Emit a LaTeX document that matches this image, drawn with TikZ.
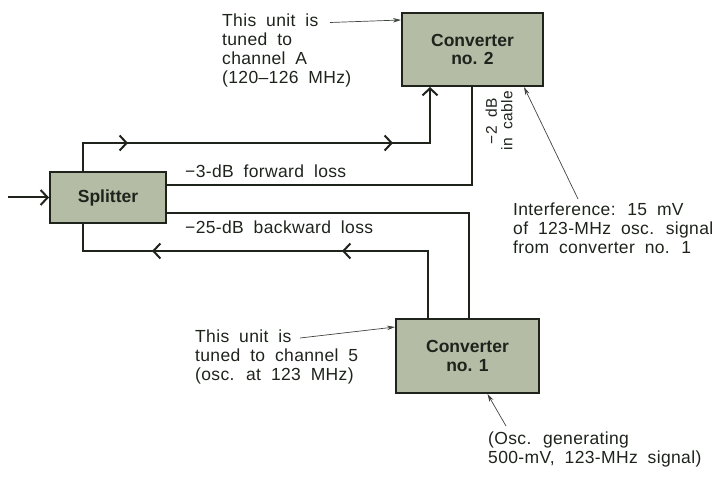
\documentclass[tikz,border=0pt]{standalone}
\usepackage{fontspec}
\setmainfont{Liberation Sans}
\newfontfamily\notefont{Liberation Sans}[WordSpace=1.9,LetterSpace=2]
\usetikzlibrary{arrows.meta}
\usetikzlibrary{decorations.markings}
\definecolor{unitfill}{RGB}{180,188,165}
\definecolor{ink}{RGB}{30,36,28}

\tikzset{
    barb/.tip={Straight Barb[length=7pt,width=15pt,line width=2pt]},
    unit/.style={draw=ink, line width=2pt, fill=unitfill, inner sep=0pt,
      align=center, text=ink, font=\fontsize{17.5}{18.5}\selectfont\bfseries},
    note/.style={inner sep=0pt, align=left, text=ink,
      font=\notefont\fontsize{17.5}{19}\selectfont},
    cable/.style={draw=ink, line width=2pt},
    pointer/.style={draw=ink!85, line width=0.7pt, -{Stealth[length=8pt,width=4.5pt]}}
}

\begin{document}
\begin{tikzpicture}[x=1pt,y=-1pt]
    \useasboundingbox (0,0) rectangle (713,492);

    \node[unit, minimum width=116, minimum height=51] (split) at (108,197.5) {Splitter};
    \node[unit, minimum width=141, minimum height=73] (conv2) at (472.5,49.5) {Converter\\no. 2};
    \node[unit, minimum width=143, minimum height=74] (conv1) at (467.5,356) {Converter\\no. 1};

    % input
    \coordinate (in) at (8,197.5);
    \draw[cable, -{barb}] (in) -- (split.west);

    % forward path to converter no. 2
    \coordinate (fwdL) at (83,143);
    \coordinate (fwdR) at (430,143);
    \draw[cable, -{barb}, postaction=decorate,
      decoration={markings, mark=at position 73pt with {\arrow{barb}},
        mark=at position 338pt with {\arrow{barb}}}]
      (split.north -| fwdL) -- (fwdL) -- (fwdR) -- (conv2.south -| fwdR);
    \coordinate (lossR) at (472,185);
    \draw[cable] (split.east |- lossR) -- (lossR) -- (conv2.south -| lossR);

    % backward path from converter no. 1
    \coordinate (backR) at (469,213);
    \draw[cable] (split.east |- backR) -- (backR) -- (conv1.north -| backR);
    \coordinate (retR) at (428,251);
    \coordinate (retL) at (83,251);
    \draw[cable, postaction=decorate,
      decoration={markings, mark=at position 153pt with {\arrow{barb}},
        mark=at position 343pt with {\arrow{barb}}}]
      (conv1.north -| retR) -- (retR) -- (retL) -- (split.south -| retL);

    \node[note, anchor=base west] (fwdloss) at (185,178) {−3-dB forward loss};
    \node[note, anchor=base west] (backloss) at (185,234) {−25-dB backward loss};
    \node[note, align=center, rotate=90, font=\notefont\fontsize{15.5}{15.5}\selectfont]
      (cabloss) at (499,121) {−2 dB\\in cable};

    \node[note, anchor=north west] (noteA) at (222,14) {This unit is\\tuned to\\channel A\\(120–126 MHz)};
    \coordinate (noteAend) at (330,22.5);
    \draw[pointer] (noteAend) -- ([yshift=2.5pt]conv2.west |- noteAend);

    \node[note, anchor=north west] (interf) at (513,203) {Interference: 15 mV\\of 123-MHz osc. signal\\from converter no. 1};
    \coordinate (interfend) at (578,199);
    \draw[pointer] (interfend) -- ([xshift=-20pt]conv2.south east);

    \node[note, anchor=north west] (note5) at (195,330) {This unit is\\tuned to channel 5\\(osc. at 123 MHz)};
    \coordinate (note5end) at (300,338);
    \draw[pointer] (note5end) -- ([yshift=29pt]conv1.west);

    \node[note, anchor=north west] (osc) at (488,432) {(Osc. generating\\500-mV, 123-MHz signal)};
    \coordinate (oscend) at (506,426);
    \draw[pointer] (oscend) -- ([xshift=20pt]conv1.south);
\end{tikzpicture}
\end{document}
